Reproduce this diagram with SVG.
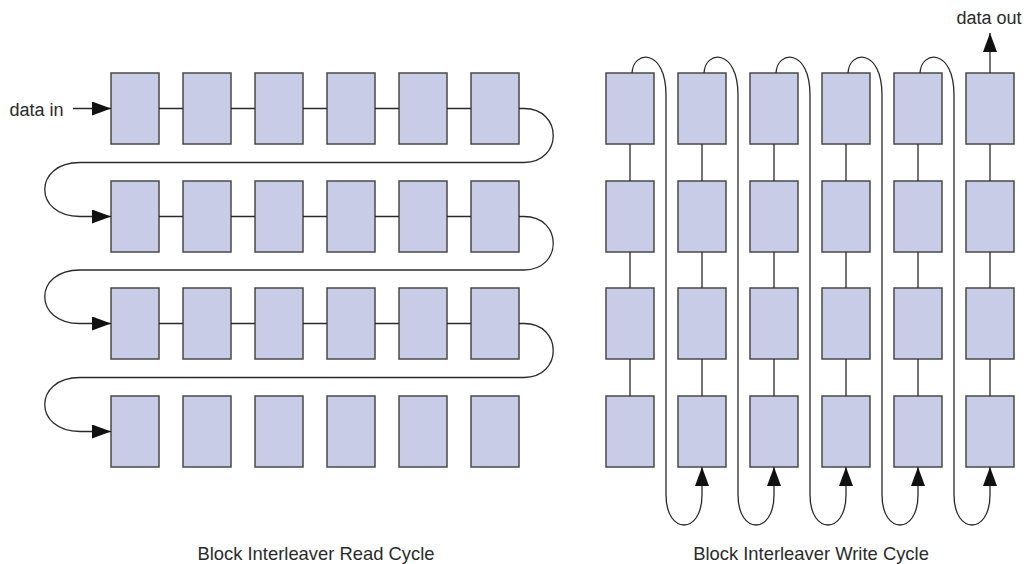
<svg xmlns="http://www.w3.org/2000/svg" width="1028" height="564" viewBox="0 0 1028 564">
  <style>
    .box { fill: #c8cce6; stroke: #4a4a4a; stroke-width: 1.5; }
    .wire { fill: none; stroke: #2a2a2a; stroke-width: 1.3; }
    .flow { fill: none; stroke: #2a2a2a; stroke-width: 1.3; marker-end: url(#head); }
    .label { font-family: "Liberation Sans", Arial, sans-serif; font-size: 18px; fill: #2a2a2a; }
    .title { font-size: 18.4px; }
  </style>
  <defs>
    <marker id="head" viewBox="0 0 19 14" refX="19" refY="7" markerWidth="19" markerHeight="14" markerUnits="userSpaceOnUse" orient="auto">
      <path d="M0,0 L19,7 L0,14 z" fill="#111"/>
    </marker>
  </defs>
  <rect width="1028" height="564" fill="#fff"/>

  <!-- Read cycle: 4 rows x 6 cells -->
  <g id="read-grid">
    <g id="r1">
      <rect class="box" x="111" y="73" width="48" height="71"/>
      <rect class="box" x="183" y="73" width="48" height="71"/>
      <rect class="box" x="255" y="73" width="48" height="71"/>
      <rect class="box" x="327" y="73" width="48" height="71"/>
      <rect class="box" x="399" y="73" width="48" height="71"/>
      <rect class="box" x="471" y="73" width="48" height="71"/>
    </g>
    <g id="r2">
      <rect class="box" x="111" y="181" width="48" height="71"/>
      <rect class="box" x="183" y="181" width="48" height="71"/>
      <rect class="box" x="255" y="181" width="48" height="71"/>
      <rect class="box" x="327" y="181" width="48" height="71"/>
      <rect class="box" x="399" y="181" width="48" height="71"/>
      <rect class="box" x="471" y="181" width="48" height="71"/>
    </g>
    <g id="r3">
      <rect class="box" x="111" y="288" width="48" height="71"/>
      <rect class="box" x="183" y="288" width="48" height="71"/>
      <rect class="box" x="255" y="288" width="48" height="71"/>
      <rect class="box" x="327" y="288" width="48" height="71"/>
      <rect class="box" x="399" y="288" width="48" height="71"/>
      <rect class="box" x="471" y="288" width="48" height="71"/>
    </g>
    <g id="r4">
      <rect class="box" x="111" y="396" width="48" height="71"/>
      <rect class="box" x="183" y="396" width="48" height="71"/>
      <rect class="box" x="255" y="396" width="48" height="71"/>
      <rect class="box" x="327" y="396" width="48" height="71"/>
      <rect class="box" x="399" y="396" width="48" height="71"/>
      <rect class="box" x="471" y="396" width="48" height="71"/>
    </g>
  </g>

  <!-- Write cycle: 6 columns x 4 cells -->
  <g id="write-grid">
    <g id="c1">
      <rect class="box" x="606" y="73" width="48" height="71"/>
      <rect class="box" x="606" y="181" width="48" height="71"/>
      <rect class="box" x="606" y="288" width="48" height="71"/>
      <rect class="box" x="606" y="396" width="48" height="71"/>
    </g>
    <g id="c2">
      <rect class="box" x="678" y="73" width="48" height="71"/>
      <rect class="box" x="678" y="181" width="48" height="71"/>
      <rect class="box" x="678" y="288" width="48" height="71"/>
      <rect class="box" x="678" y="396" width="48" height="71"/>
    </g>
    <g id="c3">
      <rect class="box" x="750" y="73" width="48" height="71"/>
      <rect class="box" x="750" y="181" width="48" height="71"/>
      <rect class="box" x="750" y="288" width="48" height="71"/>
      <rect class="box" x="750" y="396" width="48" height="71"/>
    </g>
    <g id="c4">
      <rect class="box" x="822" y="73" width="48" height="71"/>
      <rect class="box" x="822" y="181" width="48" height="71"/>
      <rect class="box" x="822" y="288" width="48" height="71"/>
      <rect class="box" x="822" y="396" width="48" height="71"/>
    </g>
    <g id="c5">
      <rect class="box" x="894" y="73" width="48" height="71"/>
      <rect class="box" x="894" y="181" width="48" height="71"/>
      <rect class="box" x="894" y="288" width="48" height="71"/>
      <rect class="box" x="894" y="396" width="48" height="71"/>
    </g>
    <g id="c6">
      <rect class="box" x="966" y="73" width="48" height="71"/>
      <rect class="box" x="966" y="181" width="48" height="71"/>
      <rect class="box" x="966" y="288" width="48" height="71"/>
      <rect class="box" x="966" y="396" width="48" height="71"/>
    </g>
  </g>

  <g id="connectors">
    <!-- read cycle: links within rows -->
    <path class="wire" d="M159,108.5H183M231,108.5H255M303,108.5H327M375,108.5H399M447,108.5H471"/>
    <path class="wire" d="M159,216.5H183M231,216.5H255M303,216.5H327M375,216.5H399M447,216.5H471"/>
    <path class="wire" d="M159,323.5H183M231,323.5H255M303,323.5H327M375,323.5H399M447,323.5H471"/>
    <!-- read cycle: serpentine row returns -->
    <path class="flow" d="M519,108.5H524C563,108.5 563,162.5 524,162.5H80C33,162.5 33,216.5 80,216.5H111"/>
    <path class="flow" d="M519,216.5H524C563,216.5 563,270 524,270H80C33,270 33,323.5 80,323.5H111"/>
    <path class="flow" d="M519,323.5H524C563,323.5 563,377.5 524,377.5H80C33,377.5 33,431.5 80,431.5H111"/>
    <!-- data in -->
    <path class="flow" d="M73,108.5H111"/>

    <!-- write cycle: links within columns -->
    <path class="wire" d="M630,144V181M630,252V288M630,359V396"/>
    <path class="wire" d="M702,144V181M702,252V288M702,359V396"/>
    <path class="wire" d="M774,144V181M774,252V288M774,359V396"/>
    <path class="wire" d="M846,144V181M846,252V288M846,359V396"/>
    <path class="wire" d="M918,144V181M918,252V288M918,359V396"/>
    <path class="wire" d="M990,144V181M990,252V288M990,359V396"/>
    <!-- write cycle: column returns -->
    <path class="flow" d="M632,73C633,50 666,48 666,95V495C666,535 702,535 702,495V467"/>
    <path class="flow" d="M704,73C705,50 738,48 738,95V495C738,535 774,535 774,495V467"/>
    <path class="flow" d="M776,73C777,50 810,48 810,95V495C810,535 846,535 846,495V467"/>
    <path class="flow" d="M848,73C849,50 882,48 882,95V495C882,535 918,535 918,495V467"/>
    <path class="flow" d="M920,73C921,50 954,48 954,95V495C954,535 990,535 990,495V467"/>
    <!-- data out -->
    <path class="flow" d="M990,73V33"/>
  </g>

  <text class="label" x="9.5" y="116">data in</text>
  <text class="label" x="989" y="24" text-anchor="middle">data out</text>
  <text class="label title" x="316" y="560" text-anchor="middle">Block Interleaver Read Cycle</text>
  <text class="label title" x="811" y="560" text-anchor="middle">Block Interleaver Write Cycle</text>
</svg>
